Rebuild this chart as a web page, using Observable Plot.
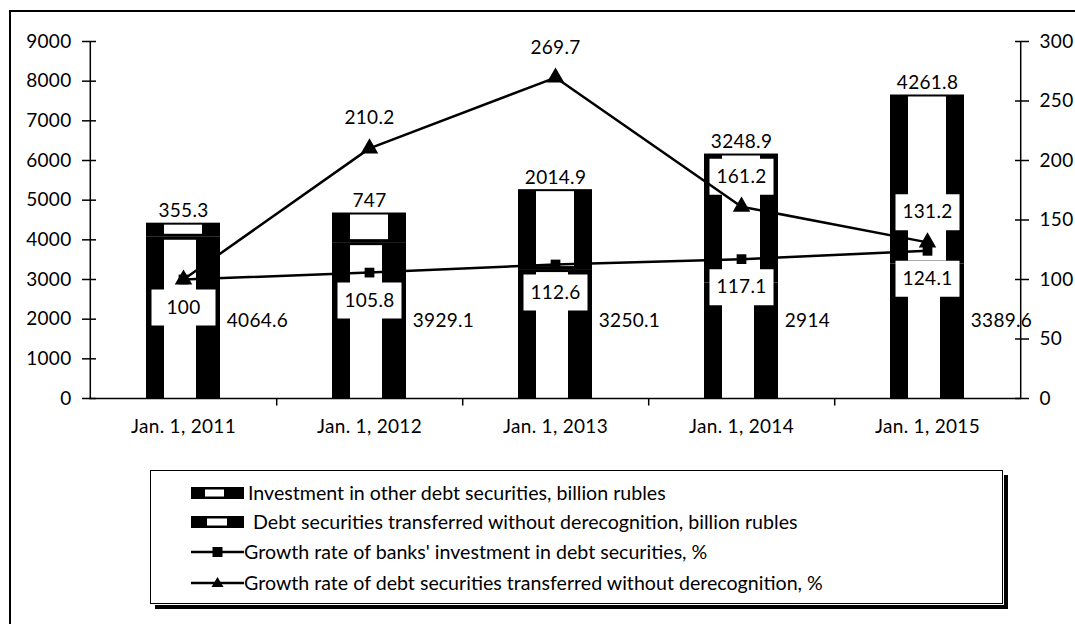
<!DOCTYPE html>
<html><head><meta charset="utf-8">
<script src="https://cdn.jsdelivr.net/npm/d3@7"></script>
<script src="https://cdn.jsdelivr.net/npm/@observablehq/plot@0.6"></script>
<style>
html,body{margin:0;padding:0;background:#fff;overflow:hidden;width:1075px;height:624px;}
#frame{position:absolute;left:9px;top:10px;width:1200px;height:800px;border:2px solid #000;box-sizing:border-box;}
#chart{position:absolute;left:0;top:0;}
#chart text{letter-spacing:0.3px;}
#legend{position:absolute;left:150px;top:470px;width:853px;height:134px;border:1px solid #000;box-sizing:border-box;background:#fff;
  box-shadow:1px 1px 0 0 #fff, 5px 5px 0 0 #000;font-family:Lato,sans-serif;font-size:18.5px;color:#000;}
.row{position:absolute;left:40px;height:22px;display:flex;align-items:center;white-space:nowrap;}
.sw{width:53px;height:14px;flex:none;}
.lt{display:inline-block;white-space:pre;transform:scaleX(1.06);transform-origin:left center;}
</style></head>
<body>
<div id="frame"></div>
<div id="chart"></div>
<div id="legend"></div>
<script>
const categories = ["Jan. 1, 2011", "Jan. 1, 2012", "Jan. 1, 2013", "Jan. 1, 2014", "Jan. 1, 2015"];
const otherDebt = [4064.6, 3929.1, 3250.1, 2914, 3389.6];
const transferred = [355.3, 747, 2014.9, 3248.9, 4261.8];
const growthInvestment = [100, 105.8, 112.6, 117.1, 124.1];
const growthTransferred = [100, 210.2, 269.7, 161.2, 131.2];
const leftTicks = [0, 1000, 2000, 3000, 4000, 5000, 6000, 7000, 8000, 9000];
const rightTicks = [0, 50, 100, 150, 200, 250, 300];
const legendLabels = [
  "Investment in other debt securities, billion rubles",
  " Debt securities transferred without derecognition, billion rubles",
  "Growth rate of banks' investment in debt securities, %",
  "Growth rate of debt securities transferred without derecognition, %"
];

const leftMax = 9000, rightMax = 300, k = leftMax / rightMax;
const W = 1075, H = 450, mL = 89, mR = 54, mT = 41, mB = 52;
const step = (W - mL - mR) / categories.length;
const bottomLabelLevel = 1960;
const fs = 19;

const bars = [];
categories.forEach((c, i) => {
  bars.push({cat: c, series: "other", y1: 0, y2: otherDebt[i], value: otherDebt[i]});
  bars.push({cat: c, series: "transferred", y1: otherDebt[i], y2: otherDebt[i] + transferred[i], value: transferred[i]});
});
const sq = categories.map((c, i) => ({cat: c, v: growthInvestment[i] * k, label: String(growthInvestment[i])}));
const tri = categories.map((c, i) => ({cat: c, v: growthTransferred[i] * k, label: String(growthTransferred[i])}));
const boxW = 64, boxH = 36;
const labelBox = {draw(ctx) { ctx.rect(-boxW / 2, -boxH / 2, boxW, boxH); }};
const font = "Lato, sans-serif";

const plot = Plot.plot({
  width: W, height: H, marginLeft: mL, marginRight: mR, marginTop: mT, marginBottom: mB,
  style: {background: "none", fontFamily: font, fontSize: fs + "px", color: "#000"},
  x: {domain: categories, paddingInner: 0.6, paddingOuter: 0.3, axis: null, label: null},
  y: {domain: [0, leftMax], axis: null, label: null},
  marks: [
    Plot.barY(bars, {x: "cat", y1: "y1", y2: "y2", fill: "black"}),
    Plot.barY(bars.filter(d => d.series === "other"), {x: "cat", y1: "y1", y2: "y2", fill: "white", insetLeft: 18, insetRight: 24, insetTop: 3}),
    Plot.barY(bars.filter(d => d.series === "transferred"), {x: "cat", y1: "y1", y2: "y2", fill: "white", insetLeft: 18, insetRight: 18, insetTop: 2, insetBottom: 3}),
    Plot.ruleY([0], {stroke: "black", strokeWidth: 1.5}),
    Plot.ruleX([categories[0]], {dx: -step / 2, stroke: "black", strokeWidth: 1.5}),
    Plot.ruleX([categories[categories.length - 1]], {dx: step / 2, stroke: "black", strokeWidth: 1.5}),
    Plot.ruleX(categories.slice(0, -1), {dx: step / 2, y1: 0, y2: -190, stroke: "black", strokeWidth: 1.5}),
    Plot.axisY(leftTicks, {anchor: "left", label: null, tickSize: 14, dx: 7, tickPadding: 11, fontSize: fs, strokeWidth: 1.5, tickFormat: d => String(d)}),
    Plot.axisY(rightTicks.map(v => v * k), {anchor: "right", label: null, tickSize: 14, dx: -7, tickPadding: 11, fontSize: fs, strokeWidth: 1.5, tickFormat: d => String(Math.round(d / k))}),
    Plot.axisX(categories, {label: null, tickSize: 0, tickPadding: 21, fontSize: fs}),
    Plot.dot(sq, {x: "cat", y: "v", symbol: labelBox, fill: "white", dy: 28}),
    Plot.dot(tri.slice(3), {x: "cat", y: "v", symbol: labelBox, fill: "white", dy: -30}),
    Plot.line(sq, {x: "cat", y: "v", stroke: "black", strokeWidth: 2.5}),
    Plot.line(tri, {x: "cat", y: "v", stroke: "black", strokeWidth: 2.5}),
    Plot.dot(sq, {x: "cat", y: "v", symbol: "square", r: 5.5, fill: "black"}),
    Plot.dot(tri, {x: "cat", y: "v", symbol: "triangle", r: 6.5, fill: "black"}),
    Plot.text(sq, {x: "cat", y: "v", text: "label", dy: 28, fontSize: fs, fill: "black"}),
    Plot.text(tri.slice(1), {x: "cat", y: "v", text: "label", dy: -30, fontSize: fs, fill: "black"}),
    Plot.text(bars.filter(d => d.series === "transferred"), {x: "cat", y: "y2", text: d => String(d.value), dy: -12, fontSize: fs, fill: "black"}),
    Plot.text(bars.filter(d => d.series === "other"), {x: "cat", y: () => bottomLabelLevel, text: d => String(d.value), textAnchor: "start", dx: step * 0.2 + 6, fontSize: fs, fill: "black"})
  ]
});
document.getElementById("chart").appendChild(plot);

// Legend
const legend = document.getElementById("legend");
const rowTops = [11, 40, 70, 101];
legendLabels.forEach((lab, i) => {
  const row = document.createElement("div");
  row.className = "row";
  row.style.top = rowTops[i] + "px";
  const ns = "http://www.w3.org/2000/svg";
  const sw = document.createElementNS(ns, "svg");
  sw.setAttribute("width", 53); sw.setAttribute("height", 14);
  sw.setAttribute("class", "sw");
  sw.style.marginRight = (i < 2 ? 4 : 0) + "px";
  if (i < 2) {
    sw.innerHTML = `<rect x="0" y="1" width="53" height="12" fill="black"/><rect x="${i === 0 ? 14 : 16}" y="3.5" width="${i === 0 ? 19 : 20}" height="7" fill="white"/>`;
  } else if (i === 2) {
    sw.innerHTML = `<line x1="0" y1="7" x2="53" y2="7" stroke="black" stroke-width="2.5"/><rect x="21.5" y="2" width="10" height="10" fill="black"/>`;
  } else {
    sw.innerHTML = `<line x1="0" y1="7" x2="53" y2="7" stroke="black" stroke-width="2.5"/><path d="M26.5,1 L32.5,11 L20.5,11 Z" fill="black"/>`;
  }
  row.appendChild(sw);
  const t = document.createElement("span");
  t.className = "lt";
  t.textContent = lab;
  row.appendChild(t);
  legend.appendChild(row);
});
</script>
</body></html>
